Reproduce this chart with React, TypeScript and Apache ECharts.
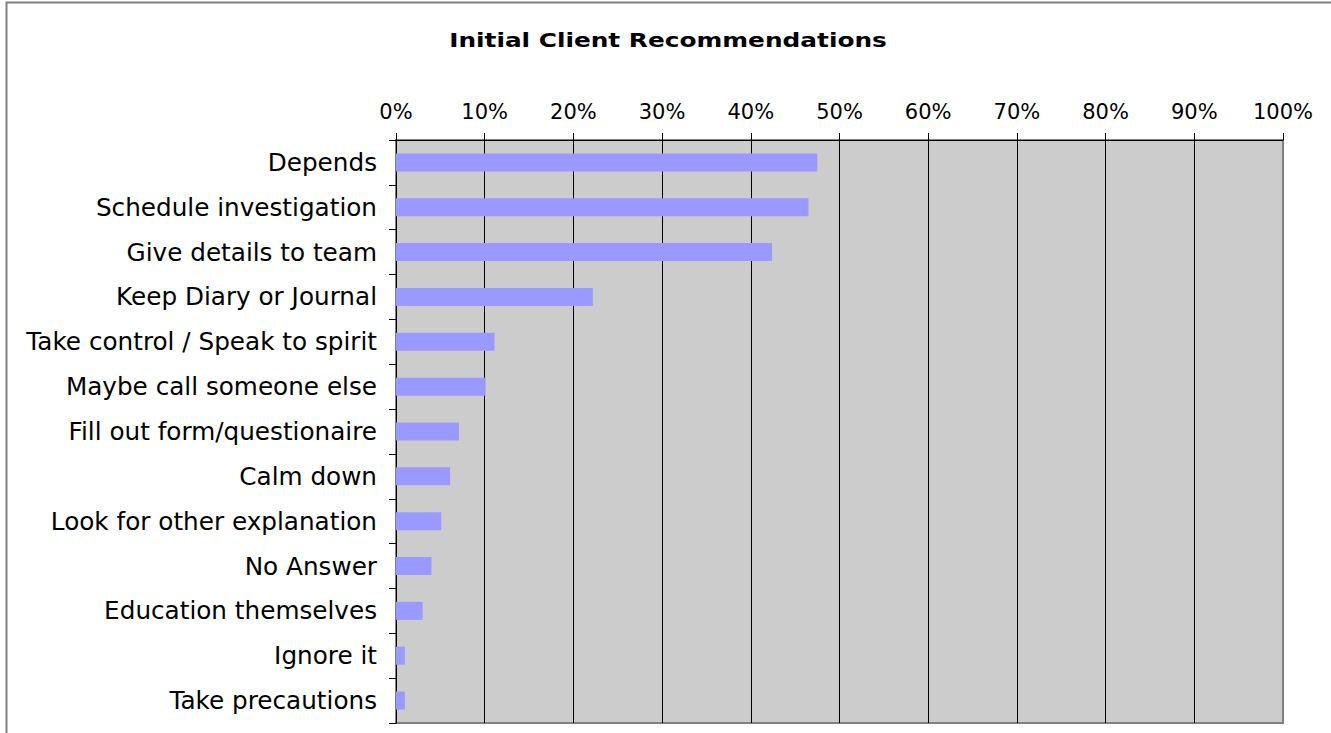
import React, { useEffect, useRef } from "react";
import * as echarts from "echarts";

const titleText = "Initial Client Recommendations";

const categories = [
  "Depends",
  "Schedule investigation",
  "Give details to team",
  "Keep Diary or Journal",
  "Take control / Speak to spirit",
  "Maybe call someone else",
  "Fill out form/questionaire",
  "Calm down",
  "Look for other explanation",
  "No Answer",
  "Education themselves",
  "Ignore it",
  "Take precautions",
];

const percentValues = [47.5, 46.5, 42.4, 22.2, 11.1, 10.1, 7.1, 6.1, 5.1, 4.0, 3.0, 1.0, 1.0];

const FONT = "'DejaVu Sans', Verdana, sans-serif";

export default function App() {
  const ref = useRef<HTMLDivElement>(null);

  useEffect(() => {
    document.body.style.margin = "0";
    if (!ref.current) return;
    const chart = echarts.init(ref.current, undefined, { renderer: "svg" });
    chart.setOption({
      animation: false,
      backgroundColor: "#ffffff",
      graphic: [
        {
          type: "rect",
          shape: { x: 6.5, y: 2.5, width: 1400, height: 800 },
          style: { fill: "none", stroke: "#808080", lineWidth: 2 },
          silent: true,
        },
        {
          type: "text",
          x: 668,
          y: 40,
          scaleX: 1.24,
          scaleY: 1,
          style: {
            text: titleText,
            fontFamily: FONT,
            fontSize: 20,
            fontWeight: "bold",
            fill: "#000",
            textAlign: "center",
            textVerticalAlign: "middle",
          },
          silent: true,
        },
      ],
      grid: {
        left: 396,
        right: 48,
        top: 140,
        bottom: 10,
        containLabel: false,
        show: true,
        backgroundColor: "#cccccc",
        borderColor: "#808080",
        borderWidth: 2,
      },
      xAxis: {
        type: "value",
        position: "top",
        min: 0,
        max: 100,
        interval: 10,
        axisLine: { show: true, lineStyle: { color: "#000", width: 1 } },
        axisTick: { show: true, length: 7, inside: false, lineStyle: { color: "#000" } },
        axisLabel: {
          formatter: "{value}%",
          fontFamily: FONT,
          fontSize: 21,
          color: "#000",
          margin: 18,
        },
        splitLine: {
          show: true,
          showMinLine: false,
          showMaxLine: false,
          lineStyle: { color: "#000", width: 1 },
        },
      },
      yAxis: {
        type: "category",
        data: categories,
        inverse: true,
        axisLine: { show: true, lineStyle: { color: "#000", width: 1 } },
        axisTick: { show: true, length: 7, alignWithLabel: false, lineStyle: { color: "#000" } },
        axisLabel: {
          fontFamily: FONT,
          fontSize: 24.7,
          color: "#000",
          margin: 19,
        },
        splitLine: { show: false },
      },
      series: [
        {
          type: "bar",
          data: percentValues,
          barWidth: 18,
          itemStyle: { color: "#9999ff" },
        },
      ],
    });
    return () => chart.dispose();
  }, []);

  return (
    <div
      ref={ref}
      style={{ position: "absolute", left: 0, top: 0, width: 1331, height: 733 }}
    />
  );
}
